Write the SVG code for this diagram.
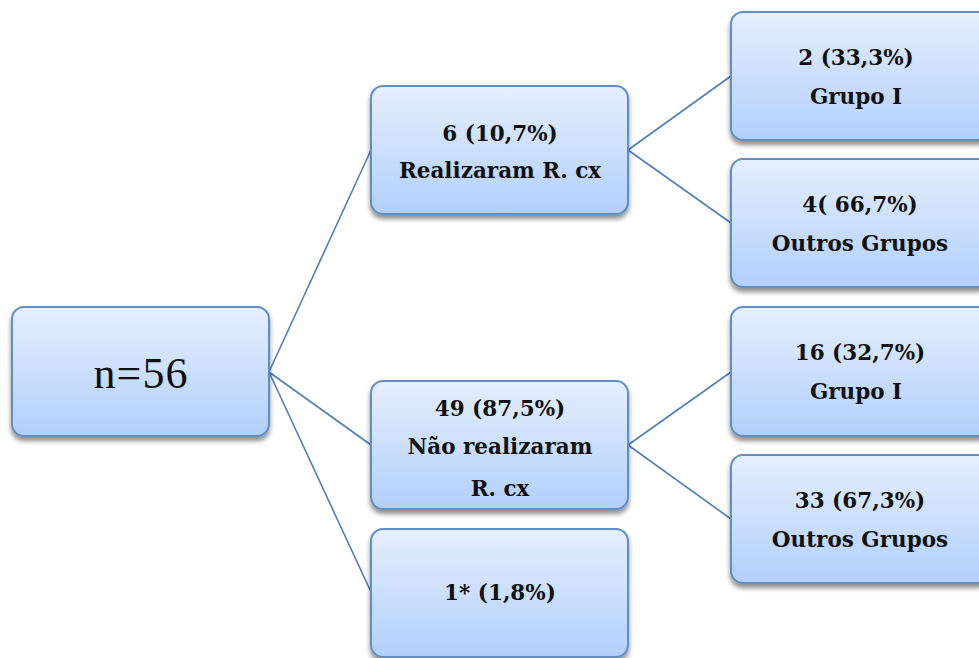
<svg xmlns="http://www.w3.org/2000/svg" width="979" height="658" viewBox="0 0 979 658">
<defs>
<linearGradient id="g" x1="0" y1="0" x2="0" y2="1">
<stop offset="0" stop-color="#e5effd"/>
<stop offset="1" stop-color="#b2cffb"/>
</linearGradient>
<filter id="sh" x="-10%" y="-10%" width="120%" height="130%">
<feGaussianBlur in="SourceAlpha" stdDeviation="2.5"/>
<feOffset dx="0" dy="4" result="b"/>
<feComponentTransfer><feFuncA type="linear" slope="0.45"/></feComponentTransfer>
<feMerge><feMergeNode/><feMergeNode in="SourceGraphic"/></feMerge>
</filter>
</defs>
<style>
.box{fill:url(#g);stroke:#5f8fc5;stroke-width:2;filter:url(#sh)}
.t{font-family:"DejaVu Serif","Liberation Serif",serif;font-weight:bold;font-size:21.5px;fill:#111;text-anchor:middle}
.r{font-family:"Liberation Serif","Times New Roman",serif;font-size:44px;letter-spacing:1px;fill:#111;text-anchor:middle}
.c{stroke:#4f7fb5;stroke-width:1.6;fill:none}
</style>
<rect width="979" height="658" fill="#fff"/>
<g id="connectors">
<line class="c" x1="269" y1="372" x2="371" y2="150"/>
<line class="c" x1="269" y1="372" x2="371" y2="445"/>
<line class="c" x1="269" y1="372" x2="371" y2="592"/>
<line class="c" x1="628" y1="150" x2="731" y2="76"/>
<line class="c" x1="628" y1="150" x2="731" y2="223"/>
<line class="c" x1="628" y1="445" x2="731" y2="372"/>
<line class="c" x1="628" y1="445" x2="731" y2="519"/>
</g>
<g id="root">
<rect class="box" x="12" y="307" width="257" height="129" rx="12"/>
<text class="r" x="141" y="388">n=56</text>
</g>
<g id="nodeA">
<rect class="box" x="371" y="86" width="257" height="128" rx="12"/>
<text class="t" x="500" y="141">6 (10,7%)</text>
<text class="t" x="500" y="178">Realizaram R. cx</text>
</g>
<g id="nodeB">
<rect class="box" x="371" y="381" width="257" height="128" rx="12"/>
<text class="t" x="500" y="416">49 (87,5%)</text>
<text class="t" x="500" y="454">Não realizaram</text>
<text class="t" x="500" y="496">R. cx</text>
</g>
<g id="nodeC">
<rect class="box" x="371" y="529" width="257" height="128" rx="12"/>
<text class="t" x="500" y="600">1* (1,8%)</text>
</g>
<g id="nodeA1">
<rect class="box" x="731" y="12" width="260" height="128" rx="12"/>
<text class="t" x="856" y="65">2 (33,3%)</text>
<text class="t" x="856" y="104">Grupo I</text>
</g>
<g id="nodeA2">
<rect class="box" x="731" y="159" width="260" height="128" rx="12"/>
<text class="t" x="860" y="212">4( 66,7%)</text>
<text class="t" x="860" y="251">Outros Grupos</text>
</g>
<g id="nodeB1">
<rect class="box" x="731" y="307" width="260" height="129" rx="12"/>
<text class="t" x="860" y="360">16 (32,7%)</text>
<text class="t" x="856" y="399">Grupo I</text>
</g>
<g id="nodeB2">
<rect class="box" x="731" y="455" width="260" height="128" rx="12"/>
<text class="t" x="860" y="508">33 (67,3%)</text>
<text class="t" x="860" y="547">Outros Grupos</text>
</g>
</svg>
